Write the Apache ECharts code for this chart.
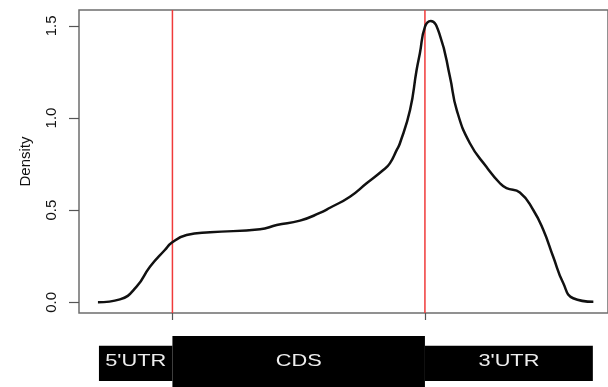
<!DOCTYPE html>
<html>
<head>
<meta charset="utf-8">
<script src="https://cdn.jsdelivr.net/npm/echarts@6/dist/echarts.min.js"></script>
<style>
	html, body { margin: 0; padding: 0; background: #fff; }
	#chart { width: 608px; height: 387px; }
</style>
</head>
<body>
<div id="chart"></div>
<script>
// Position along the transcript: CDS start = 0, CDS end = 100
const positions = [
	-29.5, -20.8, -14.2, -8.9, -3.0, -0.2, 5.6, 14.9, 34.7, 41.3, 50.5, 58.4,
	62.4, 70.3, 76.9, 83.5, 86.1, 88.8, 90.1, 94.1, 96.7, 98.0, 100, 102.3,
	105.9, 109.9, 112.6, 117.8, 124.4, 129.7, 132.3, 137.6, 142.9, 146.9,
	150.8, 154.8, 158.7, 166.7
];
const density = [
	0.0, 0.016, 0.085, 0.193, 0.284, 0.324, 0.365, 0.380, 0.396, 0.419, 0.443, 0.485,
	0.513, 0.573, 0.646, 0.718, 0.754, 0.826, 0.863, 1.043, 1.260, 1.351, 1.494, 1.526,
	1.450, 1.224, 1.043, 0.863, 0.734, 0.646, 0.619, 0.596, 0.501, 0.392,
	0.247, 0.103, 0.022, 0.003
];
const yTicks = [ 0, 0.5, 1.0, 1.5 ];
const boundaries = [ 0, 100 ];
const regionNames = [ "5'UTR", 'CDS', "3'UTR" ];
const regionStart = [ -29.1, 0, 100 ];
const regionEnd = [ 0, 100, 166.5 ];

const xMin = -37;
const xMax = 172.5;
const yMin = -0.058;
const yMax = 1.586;
const font = '"Liberation Sans", Arial, Helvetica, sans-serif';
const red = '#f03a3a';

const chart = echarts.init( document.getElementById( 'chart' ), null, { renderer: 'canvas' } );

const curve = positions.map( ( x, i ) => [ x, density[ i ] ] );
const regions = regionNames.map( ( name, i ) => [ regionStart[ i ], regionEnd[ i ], name ] );

chart.setOption( {
	backgroundColor: '#fff',
	animation: false,
	grid: [
		{ left: 79, right: 0, top: 10, bottom: 74, show: true, borderColor: '#6e6e6e', borderWidth: 1.5 },
		{ left: 79, right: 0, top: 336, height: 51 }
	],
	xAxis: [
		{
			type: 'value',
			gridIndex: 0,
			min: xMin,
			max: xMax,
			axisLine: { show: false, onZero: false },
			splitLine: { show: false },
			axisLabel: { show: false },
			axisTick: {
				show: true,
				length: 7,
				customValues: boundaries,
				lineStyle: { color: '#555', width: 1.2 }
			}
		},
		{
			type: 'value',
			gridIndex: 1,
			min: xMin,
			max: xMax,
			show: false
		}
	],
	yAxis: [
		{
			type: 'value',
			gridIndex: 0,
			min: yMin,
			max: yMax,
			name: 'Density',
			nameLocation: 'middle',
			nameGap: 46,
			nameTextStyle: { fontFamily: font, fontSize: 15, color: '#111' },
			axisLine: { show: false, onZero: false },
			splitLine: { show: false },
			axisTick: {
				show: true,
				length: 10,
				customValues: yTicks,
				lineStyle: { color: '#555', width: 1.2 }
			},
			axisLabel: {
				customValues: yTicks,
				rotate: 90,
				margin: 20,
				fontFamily: font,
				fontSize: 15,
				color: '#111',
				formatter: ( v ) => v.toFixed( 1 )
			}
		},
		{
			type: 'value',
			gridIndex: 1,
			min: 0,
			max: 1,
			show: false
		}
	],
	series: [
		{
			type: 'line',
			xAxisIndex: 0,
			yAxisIndex: 0,
			data: curve,
			smooth: 0.5,
			showSymbol: false,
			lineStyle: { color: '#111', width: 2.5 },
			z: 3
		},
		{
			// region boundaries (CDS start / end)
			type: 'custom',
			xAxisIndex: 0,
			yAxisIndex: 0,
			data: boundaries.map( ( b ) => [ b ] ),
			silent: true,
			z: 2,
			renderItem: ( params, api ) => {
				const top = api.coord( [ api.value( 0 ), yMax ] );
				const bottom = api.coord( [ api.value( 0 ), yMin ] );
				return {
					type: 'line',
					shape: { x1: top[ 0 ], y1: top[ 1 ], x2: top[ 0 ], y2: bottom[ 1 ] },
					style: { stroke: red, lineWidth: 1.5 }
				};
			}
		},
		{
			type: 'custom',
			xAxisIndex: 1,
			yAxisIndex: 1,
			data: regions,
			renderItem: ( params, api ) => {
				const isCds = params.dataIndex === 1;
				const topLeft = api.coord( [ api.value( 0 ), isCds ? 1 : 0.81 ] );
				const bottomRight = api.coord( [ api.value( 1 ), isCds ? 0 : 0.12 ] );
				const mid = api.coord( [ ( api.value( 0 ) + api.value( 1 ) ) / 2, 0.5 ] );
				return {
					type: 'group',
					children: [
						{
							type: 'rect',
							shape: {
								x: topLeft[ 0 ],
								y: topLeft[ 1 ],
								width: bottomRight[ 0 ] - topLeft[ 0 ],
								height: bottomRight[ 1 ] - topLeft[ 1 ]
							},
							style: { fill: '#000' }
						},
						{
							type: 'text',
							x: mid[ 0 ],
							y: mid[ 1 ],
							scaleX: 1.28,
							style: {
								text: api.value( 2 ),
								fill: '#eee',
								font: '17px ' + font,
								align: 'center',
								verticalAlign: 'middle'
							}
						}
					]
				};
			}
		}
	]
} );
</script>
</body>
</html>
